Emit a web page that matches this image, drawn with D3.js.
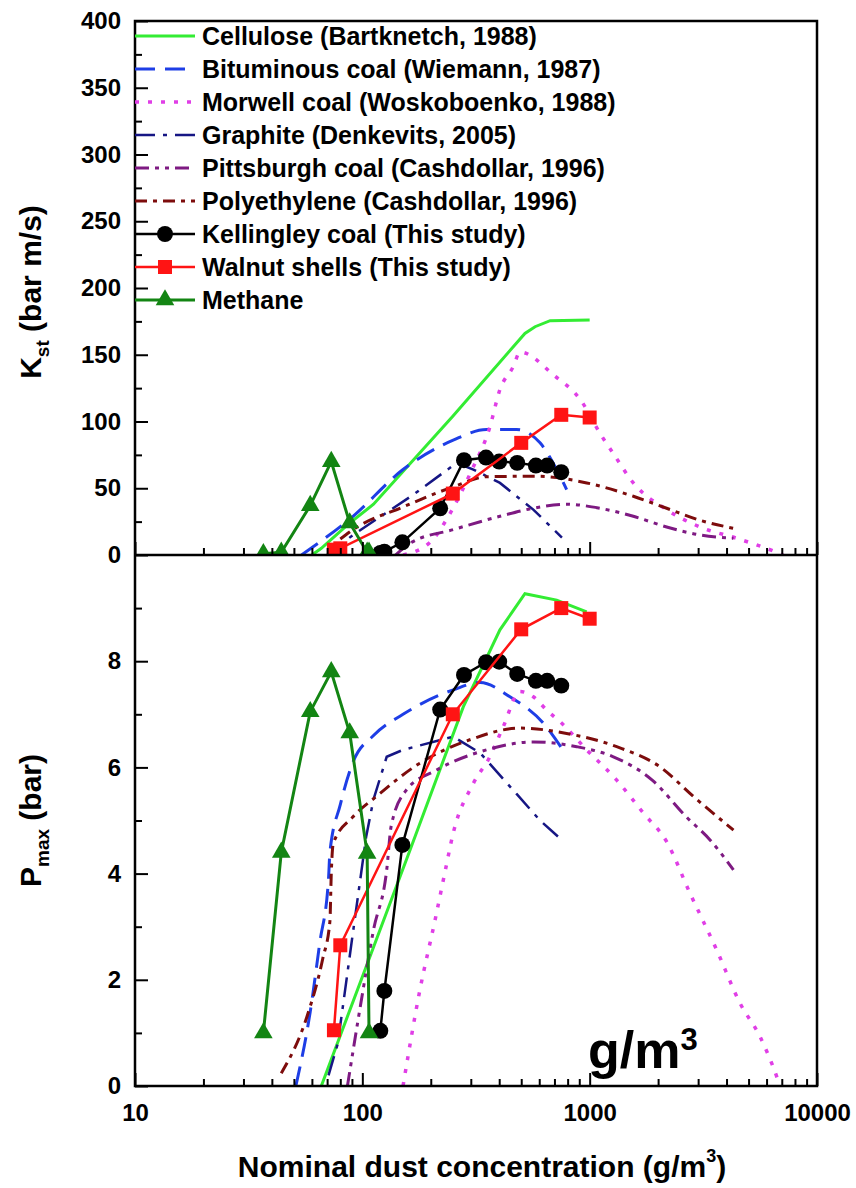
<!DOCTYPE html>
<html>
<head>
<meta charset="utf-8">
<script src="https://cdn.jsdelivr.net/npm/d3@7"></script>
<style>
  body { margin: 0; background: #fff; }
  svg { display: block; font-family: "Liberation Sans", Arial, sans-serif; font-weight: bold; }
</style>
</head>
<body>
<script>
// legend / series names
const legendLabels = [
  'Cellulose (Bartknetch, 1988)',
  'Bituminous coal (Wiemann, 1987)',
  'Morwell coal (Woskoboenko, 1988)',
  'Graphite (Denkevits, 2005)',
  'Pittsburgh coal (Cashdollar, 1996)',
  'Polyethylene (Cashdollar, 1996)',
  'Kellingley coal (This study)',
  'Walnut shells (This study)',
  'Methane'
];

// concentrations (g/m3) and Kst (bar m/s) for the top panel, Pmax (bar) for the bottom one
const celluloseKx = [60, 66, 88, 112, 250, 519, 575, 670, 1000];
const celluloseK = [0, 5, 24, 38, 104, 166, 171, 175.5, 176];
const cellulosePx = [66, 162, 278, 403, 519, 716, 970];
const celluloseP = [0, 4.44, 7.14, 8.59, 9.27, 9.15, 8.93];

const bituminousKx = [54, 91, 151, 251, 352, 477, 605, 716, 792];
const bituminousK = [0, 29, 64, 86, 94, 94, 84, 64, 49];
const bituminousPx = [51, 59, 65, 71, 72, 80, 91, 112, 151, 251, 330, 446, 626, 762];
const bituminousP = [0, 1.4, 2.7, 3.9, 4.4, 5.3, 6.1, 6.6, 7.0, 7.46, 7.6, 7.33, 6.83, 6.33];

const morwellKx = [151, 200, 243, 300, 364, 403, 461, 494, 692, 922, 1111, 1271, 1556, 2181, 3058, 4436, 6537, 7100];
const morwellK = [0, 10, 31, 62, 96, 124, 141, 152, 135, 115, 91, 76, 54, 34, 21, 12.5, 2.5, 0];
const morwellPx = [151, 179, 209, 232, 251, 308, 364, 417, 494, 565, 647, 754, 971, 1315, 1723, 2181, 2763, 3622, 4585, 5614, 6645, 6870];
const morwellP = [0, 1.8, 3.13, 4.07, 4.76, 5.7, 6.2, 6.77, 7.43, 7.33, 7.08, 6.83, 6.33, 5.76, 5.14, 4.6, 3.63, 2.56, 1.56, 0.93, 0.18, 0];

const graphiteKx = [70, 91, 167, 260, 308, 403, 565, 755];
const graphiteK = [0, 15, 45, 69, 64, 54, 34, 13];
const graphitePx = [71, 78, 91, 104, 112, 128, 151, 251, 330, 477, 605, 755];
const graphiteP = [0.2, 0.8, 2.9, 4.7, 5.4, 6.2, 6.33, 6.58, 6.27, 5.5, 5.0, 4.63];

const pittsburghKx = [140, 163, 251, 403, 565, 792, 1111, 1556, 2181, 3058, 4290];
const pittsburghK = [0, 9, 19, 29, 35, 38, 35, 29, 21, 15, 12.5];
const pittsburghPx = [86, 98, 112, 128, 134, 156, 212, 352, 565, 877, 1271, 1884, 2661, 3392, 4290];
const pittsburghP = [0, 1.5, 2.94, 4.07, 4.9, 5.57, 5.95, 6.33, 6.48, 6.39, 6.2, 5.76, 5.07, 4.63, 4.07];

const polyKx = [80, 91, 151, 251, 352, 585, 971, 1556, 2181, 3058, 4290];
const polyK = [12, 19, 36, 51, 58.6, 59, 54, 44, 35, 26, 20];
const polyPx = [44, 57, 67, 72, 73, 74.5, 91, 115, 179, 297, 494, 792, 1315, 2039, 2863, 4290];
const polyP = [0.24, 1.3, 2.4, 3.1, 4.0, 4.57, 5.07, 5.45, 6.08, 6.52, 6.74, 6.64, 6.39, 6.01, 5.45, 4.82];

const kellingleyX = [120, 125, 150, 220, 280, 350, 400, 480, 580, 650, 750];
const kellingleyK = [1.5, 2.5, 9.5, 35, 71, 73, 70, 69, 67, 67, 62];
const kellingleyP = [1.04, 1.79, 4.54, 7.09, 7.74, 7.98, 7.99, 7.76, 7.63, 7.63, 7.54];

const walnutX = [75, 80, 250, 500, 750, 1000];
const walnutK = [4, 5, 46, 84, 105, 103];
const walnutP = [1.05, 2.65, 7.0, 8.6, 9.0, 8.8];

const methaneX = [36.7, 44, 59, 73, 88, 105, 107];
const methaneK = [1, 2, 37, 70, 24, 2, 2];
const methaneP = [1.0, 4.4, 7.05, 7.8, 6.65, 4.38, 1.0];

// tick values
const xTicks = [10, 100, 1000, 10000];
const kTicks = d3.range(0, 401, 50);
const pTicks = [0, 2, 4, 6, 8];

let dim = { width: 856, height: 1188 };
let L = 135, R = 817, T = 21, M = 555, B = 1086;

let svg = d3.select('body').append('svg').attr('width', dim.width).attr('height', dim.height);

let x = d3.scaleLog().domain([10, 10000]).range([L, R]);
let yK = d3.scaleLinear().domain([0, 400]).range([M, T]);
let yP = d3.scaleLinear().domain([0, 10]).range([B, M]);

let series = [
  { kx: celluloseKx, k: celluloseK, px: cellulosePx, p: celluloseP, color: '#33ec33', width: 3, dash: null, curve: d3.curveLinear },
  { kx: bituminousKx, k: bituminousK, px: bituminousPx, p: bituminousP, color: '#1e3ee6', width: 3, dash: '20,10', curve: d3.curveMonotoneX },
  { kx: morwellKx, k: morwellK, px: morwellPx, p: morwellP, color: '#e03ee6', width: 3.5, dash: '4,9', curve: d3.curveMonotoneX },
  { kx: graphiteKx, k: graphiteK, px: graphitePx, p: graphiteP, color: '#161684', width: 2.5, dash: '20,8,4,8', curve: d3.curveLinear },
  { kx: pittsburghKx, k: pittsburghK, px: pittsburghPx, p: pittsburghP, color: '#7e1a82', width: 3, dash: '14,6,4,6,4,6', curve: d3.curveMonotoneX },
  { kx: polyKx, k: polyK, px: polyPx, p: polyP, color: '#7d0c0c', width: 3, dash: '12,6,4,6', curve: d3.curveMonotoneX },
  { kx: kellingleyX, k: kellingleyK, px: kellingleyX, p: kellingleyP, color: '#000', width: 2.5, dash: null, curve: d3.curveLinear, marker: 'circle' },
  { kx: walnutX, k: walnutK, px: walnutX, p: walnutP, color: '#ff1414', width: 2.5, dash: null, curve: d3.curveLinear, marker: 'square' },
  { kx: methaneX, k: methaneK, px: methaneX, p: methaneP, color: '#138513', width: 3, dash: null, curve: d3.curveLinear, marker: 'triangle' }
];

// clip areas for the two panels
let defs = svg.append('defs');
defs.append('clipPath').attr('id', 'clipTop').append('rect').attr('x', L).attr('y', T).attr('width', R - L).attr('height', M - T);
defs.append('clipPath').attr('id', 'clipBot').append('rect').attr('x', L).attr('y', M).attr('width', R - L).attr('height', B - M);

function symbolFor(kind) {
  if (kind === 'circle') return d3.symbol(d3.symbolCircle, 200)();
  if (kind === 'square') return d3.symbol(d3.symbolSquare, 196)();
  return d3.symbol(d3.symbolTriangle, 150)();
}

function drawPanel(xKey, yKey, yScale, clipId) {
  let g = svg.append('g').attr('clip-path', `url(#${clipId})`);
  series.forEach((s) => {
    let pts = d3.zip(s[xKey], s[yKey]);
    let line = d3.line().x((d) => x(d[0])).y((d) => yScale(d[1])).curve(s.curve);
    g.append('path')
      .attr('d', line(pts))
      .attr('fill', 'none')
      .attr('stroke', s.color)
      .attr('stroke-width', s.width)
      .attr('stroke-dasharray', s.dash);
    if (s.marker) {
      g.selectAll(null)
        .data(pts)
        .enter()
        .append('path')
        .attr('d', symbolFor(s.marker))
        .attr('transform', (d) => `translate(${x(d[0])},${yScale(d[1])})`)
        .attr('fill', s.color);
    }
  });
}

drawPanel('kx', 'k', yK, 'clipTop');
drawPanel('px', 'p', yP, 'clipBot');

// axes: ticks point inward
function styleAxis(g) {
  g.attr('font-family', null).attr('font-size', 24).attr('font-weight', 'bold');
  g.selectAll('.domain').remove();
  g.selectAll('line').attr('stroke', '#000').attr('stroke-width', 2);
  g.selectAll('text').attr('fill', '#000');
}

let minorX = [];
[10, 100, 1000].forEach((d) => { for (let i = 2; i <= 9; i++) minorX.push(d * i); });

[M, B].forEach((yPos, i) => {
  let major = svg.append('g').attr('transform', `translate(0,${yPos})`)
    .call(d3.axisBottom(x).tickValues(xTicks).tickSize(-13).tickPadding(18).tickFormat(i === 1 ? d3.format('d') : ''));
  styleAxis(major);
  let minor = svg.append('g').attr('transform', `translate(0,${yPos})`)
    .call(d3.axisBottom(x).tickValues(minorX).tickSize(-7).tickFormat(''));
  styleAxis(minor);
});

let kAxis = svg.append('g').attr('transform', `translate(${L},0)`)
  .call(d3.axisLeft(yK).tickValues(kTicks).tickSize(-13).tickPadding(14));
styleAxis(kAxis);
let kMinor = svg.append('g').attr('transform', `translate(${L},0)`)
  .call(d3.axisLeft(yK).tickValues(d3.range(25, 400, 50)).tickSize(-7).tickFormat(''));
styleAxis(kMinor);

let pAxis = svg.append('g').attr('transform', `translate(${L},0)`)
  .call(d3.axisLeft(yP).tickValues(pTicks).tickSize(-13).tickPadding(14));
styleAxis(pAxis);
let pMinor = svg.append('g').attr('transform', `translate(${L},0)`)
  .call(d3.axisLeft(yP).tickValues([1, 3, 5, 7, 9]).tickSize(-7).tickFormat(''));
styleAxis(pMinor);

// frame
svg.append('rect').attr('x', L).attr('y', T).attr('width', R - L).attr('height', B - T)
  .attr('fill', 'none').attr('stroke', '#000').attr('stroke-width', 2.5);
svg.append('line').attr('x1', L).attr('x2', R).attr('y1', M).attr('y2', M)
  .attr('stroke', '#000').attr('stroke-width', 2.5);

// legend
let legend = svg.append('g');
series.forEach((s, i) => {
  let yy = 36 + i * 33;
  legend.append('line')
    .attr('x1', L).attr('x2', L + 60).attr('y1', yy).attr('y2', yy)
    .attr('stroke', s.color).attr('stroke-width', s.width).attr('stroke-dasharray', s.dash);
  if (s.marker) {
    legend.append('path').attr('d', symbolFor(s.marker))
      .attr('transform', `translate(${L + 30},${yy})`).attr('fill', s.color);
  }
  legend.append('text')
    .attr('x', 202).attr('y', yy).attr('dy', '0.36em')
    .attr('font-size', 25).text(legendLabels[i]);
});

// axis titles
let kTitle = svg.append('text')
  .attr('transform', `translate(41,${(T + M) / 2 + 4}) rotate(-90)`)
  .attr('text-anchor', 'middle').attr('font-size', 30);
kTitle.append('tspan').text('K');
kTitle.append('tspan').attr('font-size', 19).attr('dy', 8).text('st');
kTitle.append('tspan').attr('dy', -8).text(' (bar m/s)');

let pTitle = svg.append('text')
  .attr('transform', `translate(41,${(M + B) / 2}) rotate(-90)`)
  .attr('text-anchor', 'middle').attr('font-size', 30);
pTitle.append('tspan').text('P');
pTitle.append('tspan').attr('font-size', 19).attr('dy', 8).text('max');
pTitle.append('tspan').attr('dy', -8).text(' (bar)');

let xTitle = svg.append('text')
  .attr('x', 482).attr('y', 1177)
  .attr('text-anchor', 'middle').attr('font-size', 30);
xTitle.append('tspan').text('Nominal dust concentration (g/m');
xTitle.append('tspan').attr('font-size', 18).attr('dy', -15).text('3');
xTitle.append('tspan').attr('dy', 15).text(')');

// unit annotation inside the lower panel
let unit = svg.append('text').attr('x', 588).attr('y', 1068).attr('font-size', 52);
unit.append('tspan').text('g/m');
unit.append('tspan').attr('font-size', 31).attr('dy', -18).text('3');
</script>
</body>
</html>
